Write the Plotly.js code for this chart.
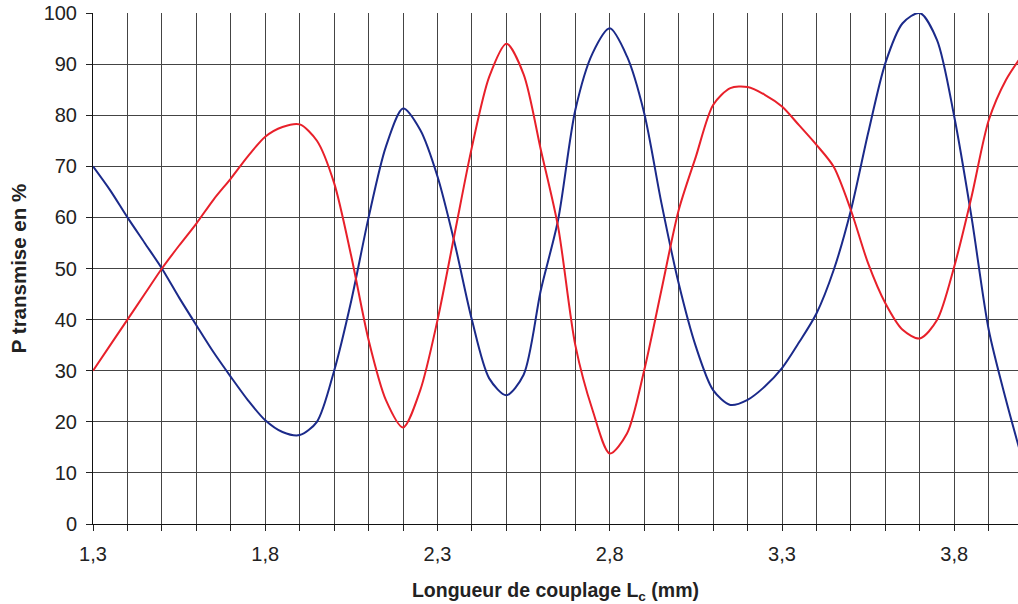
<!DOCTYPE html>
<html>
<head>
<meta charset="utf-8">
<script src="https://cdn.plot.ly/plotly-3.0.1.min.js"></script>
<style>html,body{margin:0;padding:0;background:#fff;overflow:hidden}</style>
</head>
<body>
<div id="chart" style="width:1018px;height:604px"></div>
<script>
const lengthMm = [1.3,1.35,1.4,1.45,1.5,1.55,1.6,1.65,1.7,1.75,1.8,1.85,1.9,1.95,2.0,2.05,2.1,2.15,2.2,2.25,2.3,2.35,2.4,2.45,2.5,2.55,2.6,2.65,2.7,2.75,2.8,2.85,2.9,2.95,3.0,3.05,3.1,3.15,3.2,3.25,3.3,3.35,3.4,3.45,3.5,3.55,3.6,3.65,3.7,3.75,3.8,3.85,3.9,3.95,4.0];
const bluePct = [70,65.3,60,55,50,44.3,38.9,33.6,28.8,24.2,20.3,18,17.4,20,30,43.8,60,73.8,81.3,77.1,68,54.9,39.9,28.5,25.2,29.2,45.8,59.5,81,92.1,97,91.5,80.4,62.8,47.1,34.7,26.2,23.3,24.3,26.9,30.5,35.6,41.2,49.7,61.4,76.5,90.2,98,100,94.7,79.7,60.1,38,24.3,12];
const redPct = [30,35,40,45,50,54.5,58.8,63.5,67.6,72,75.8,77.7,78.2,75,66.7,52.3,36,24.3,18.9,26.2,39.9,56.9,73.8,87.5,94,88,73.2,58.2,35,22.3,13.8,17.7,30.1,45.8,61.4,71.9,82,85.3,85.5,84,81.7,78,74.2,69.9,61.4,51,43.2,38,36.3,39.9,50.4,64,79,86.9,92];
const xTickVals = [1.3,1.8,2.3,2.8,3.3,3.8];

const traces = [
  {x: lengthMm, y: bluePct, type:'scatter', mode:'lines', line:{color:'#1b2a8a', width:2, shape:'spline', smoothing:0.8}, hoverinfo:'x+y', showlegend:false},
  {x: lengthMm, y: redPct, type:'scatter', mode:'lines', line:{color:'#e8202a', width:2, shape:'spline', smoothing:0.8}, hoverinfo:'x+y', showlegend:false}
];

const layout = {
  width:1018, height:604,
  margin:{l:93, r:0, t:13, b:80, pad:0},
  paper_bgcolor:'#fff', plot_bgcolor:'#fff',
  separators:',.',
  font:{family:'"Liberation Sans", Arial, sans-serif', size:20, color:'#222'},
  showlegend:false,
  xaxis:{
    range:[1.3, 3.985], tickvals:xTickVals, tickformat:'.1f',
    ticks:'outside', ticklen:6, tickcolor:'#222', tickwidth:1,
    showgrid:true, gridcolor:'#444', gridwidth:1,
    minor:{dtick:0.1, tick0:1.3, ticks:'outside', ticklen:6, tickcolor:'#222', showgrid:true, gridcolor:'#444', gridwidth:1},
    showline:true, linecolor:'#111', linewidth:1,
    zeroline:false, ticklabelstandoff:6,
    tickfont:{size:20, color:'#222'},
    title:{text:'<b>Longueur de couplage L<sub>c</sub> (mm)</b>', font:{size:19.5, color:'#222'}, standoff:19}
  },
  yaxis:{
    range:[0,100], dtick:10, tick0:0,
    ticks:'outside', ticklen:6, tickcolor:'#222', tickwidth:1,
    showgrid:true, gridcolor:'#444', gridwidth:1,
    showline:true, linecolor:'#111', linewidth:1,
    zeroline:false, ticklabelstandoff:5,
    tickfont:{size:20, color:'#222'},
    title:{text:'<b>P transmise en %</b>', font:{size:20.5, color:'#222'}, standoff:11}
  }
};

Plotly.newPlot('chart', traces, layout, {displayModeBar:false, staticPlot:true});
</script>
</body>
</html>
